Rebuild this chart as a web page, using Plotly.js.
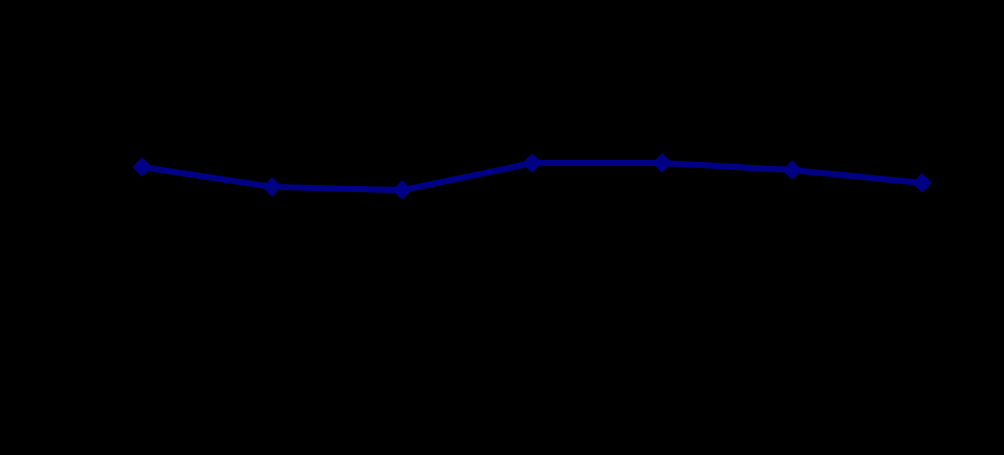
<!DOCTYPE html>
<html>
<head>
<meta charset="utf-8">
<script src="https://cdn.plot.ly/plotly-3.0.1.min.js"></script>
<style>html,body{margin:0;padding:0;background:#000;}#chart{width:1004px;height:455px;}</style>
</head>
<body>
<div id="chart"></div>
<script>
const categories = ["2016", "2017", "2018", "2019", "2020", "2021", "2022"];
const seriesValues = [62.2, 56.7, 55.8, 63.3, 63.3, 61.4, 57.8];
const seriesName = "Value";

const trace = {
  x: categories,
  y: seriesValues,
  name: seriesName,
  type: "scatter",
  mode: "lines+markers",
  line: {color: "#000086", width: 6},
  marker: {symbol: "diamond", size: 15, color: "#000086"}
};

const layout = {
  width: 1004,
  height: 455,
  paper_bgcolor: "#000000",
  plot_bgcolor: "#000000",
  font: {family: "Liberation Sans, Arial, sans-serif", color: "#000000", size: 12},
  margin: {l: 77, r: 17, t: 31, b: 64},
  showlegend: false,
  xaxis: {
    type: "category",
    range: [-0.5, 6.5],
    showgrid: false,
    zeroline: false,
    showline: false,
    tickfont: {color: "#000000"}
  },
  yaxis: {
    range: [0, 100],
    showgrid: false,
    zeroline: false,
    showline: false,
    tickfont: {color: "#000000"}
  }
};

Plotly.newPlot("chart", [trace], layout, {displayModeBar: false, staticPlot: true});
</script>
</body>
</html>
